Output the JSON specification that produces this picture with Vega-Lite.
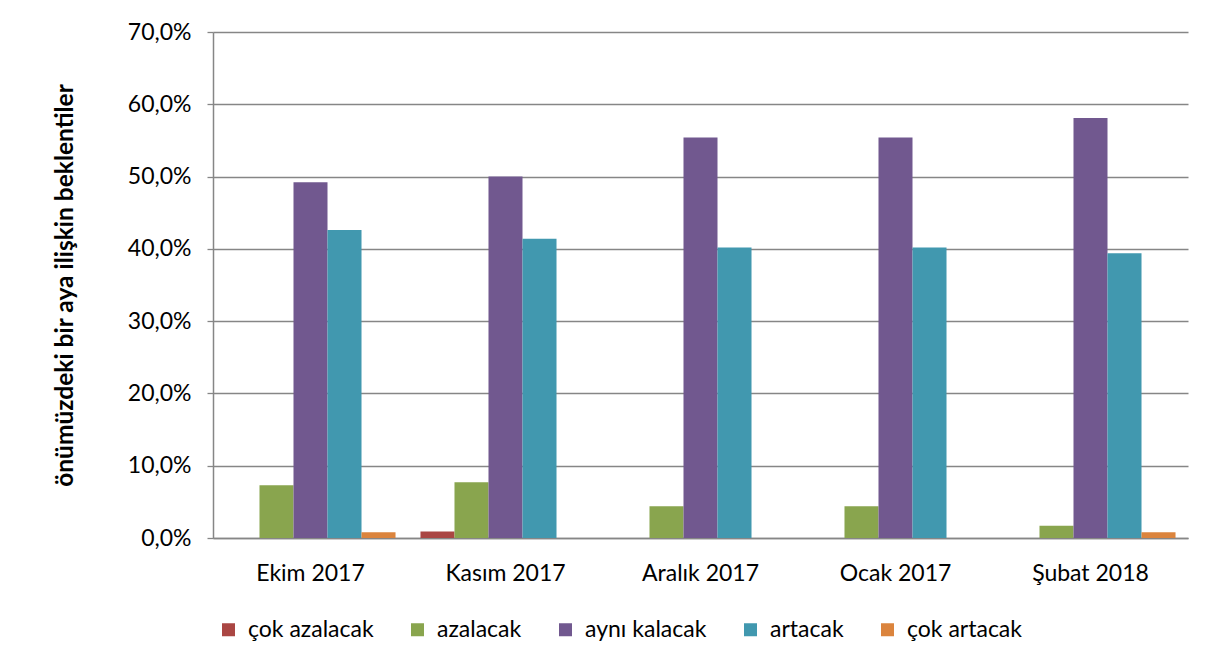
{
  "$schema": "https://vega.github.io/schema/vega-lite/v6.json",
  "width": 975,
  "height": 506,
  "autosize": {"type": "none"},
  "padding": {"left": 213, "top": 32, "right": 31, "bottom": 132},
  "background": "white",
  "config": {
    "font": "Lato",
    "view": {"stroke": null},
    "axis": {"labelFont": "Lato", "titleFont": "Lato", "labelColor": "#000000", "titleColor": "#000000"}
  },
  "data": {
    "values": [
      {"ay": "Ekim 2017", "seri": "çok azalacak", "deger": 0.0},
      {"ay": "Ekim 2017", "seri": "azalacak", "deger": 7.3},
      {"ay": "Ekim 2017", "seri": "aynı kalacak", "deger": 49.2},
      {"ay": "Ekim 2017", "seri": "artacak", "deger": 42.6},
      {"ay": "Ekim 2017", "seri": "çok artacak", "deger": 0.8},
      {"ay": "Kasım 2017", "seri": "çok azalacak", "deger": 0.9},
      {"ay": "Kasım 2017", "seri": "azalacak", "deger": 7.7},
      {"ay": "Kasım 2017", "seri": "aynı kalacak", "deger": 50.0},
      {"ay": "Kasım 2017", "seri": "artacak", "deger": 41.4},
      {"ay": "Kasım 2017", "seri": "çok artacak", "deger": 0.0},
      {"ay": "Aralık 2017", "seri": "çok azalacak", "deger": 0.0},
      {"ay": "Aralık 2017", "seri": "azalacak", "deger": 4.4},
      {"ay": "Aralık 2017", "seri": "aynı kalacak", "deger": 55.4},
      {"ay": "Aralık 2017", "seri": "artacak", "deger": 40.2},
      {"ay": "Aralık 2017", "seri": "çok artacak", "deger": 0.0},
      {"ay": "Ocak 2017", "seri": "çok azalacak", "deger": 0.0},
      {"ay": "Ocak 2017", "seri": "azalacak", "deger": 4.4},
      {"ay": "Ocak 2017", "seri": "aynı kalacak", "deger": 55.4},
      {"ay": "Ocak 2017", "seri": "artacak", "deger": 40.2},
      {"ay": "Ocak 2017", "seri": "çok artacak", "deger": 0.0},
      {"ay": "Şubat 2018", "seri": "çok azalacak", "deger": 0.0},
      {"ay": "Şubat 2018", "seri": "azalacak", "deger": 1.7},
      {"ay": "Şubat 2018", "seri": "aynı kalacak", "deger": 58.1},
      {"ay": "Şubat 2018", "seri": "artacak", "deger": 39.4},
      {"ay": "Şubat 2018", "seri": "çok artacak", "deger": 0.8}
    ]
  },
  "mark": {"type": "bar"},
  "encoding": {
    "x": {
      "field": "ay",
      "type": "nominal",
      "sort": ["Ekim 2017", "Kasım 2017", "Aralık 2017", "Ocak 2017", "Şubat 2018"],
      "scale": {"paddingInner": 0.128, "paddingOuter": 0.064},
      "axis": {
        "title": null,
        "labelAngle": 0,
        "labelFontSize": 23,
        "labelPadding": 24,
        "ticks": false,
        "domainColor": "#868686",
        "domainWidth": 1.5,
        "grid": false
      }
    },
    "xOffset": {
      "field": "seri",
      "type": "nominal",
      "sort": ["çok azalacak", "azalacak", "aynı kalacak", "artacak", "çok artacak"],
      "scale": {"paddingInner": 0, "paddingOuter": 0}
    },
    "y": {
      "field": "deger",
      "type": "quantitative",
      "scale": {"domain": [0, 70], "nice": false},
      "axis": {
        "title": "önümüzdeki bir aya ilişkin beklentiler",
        "titleFontSize": 24.5,
        "titleFontWeight": "bold",
        "titleAngle": -90,
        "titleX": -148,
        "titleY": 253,
        "titleAlign": "center",
        "titleBaseline": "middle",
        "values": [0, 10, 20, 30, 40, 50, 60, 70],
        "labelExpr": "replace(format(datum.value, '.1f'), '.', ',') + '%'",
        "labelFontSize": 23,
        "labelPadding": 16,
        "tickSize": 6,
        "tickColor": "#868686",
        "tickWidth": 1.3,
        "domainColor": "#868686",
        "domainWidth": 1.5,
        "grid": true,
        "gridColor": "#868686",
        "gridWidth": 1.3
      }
    },
    "color": {
      "field": "seri",
      "type": "nominal",
      "sort": ["çok azalacak", "azalacak", "aynı kalacak", "artacak", "çok artacak"],
      "scale": {
        "domain": ["çok azalacak", "azalacak", "aynı kalacak", "artacak", "çok artacak"],
        "range": ["#AA4643", "#89A54E", "#71588F", "#4198AF", "#DB843D"]
      },
      "legend": {
        "title": null,
        "orient": "none",
        "direction": "horizontal",
        "legendX": 4,
        "legendY": 586,
        "symbolType": "square",
        "symbolSize": 169,
        "symbolStrokeWidth": 0,
        "labelFontSize": 23,
        "labelColor": "#000000",
        "labelLimit": 300,
        "columnPadding": 32,
        "labelOffset": 8
      }
    }
  }
}
